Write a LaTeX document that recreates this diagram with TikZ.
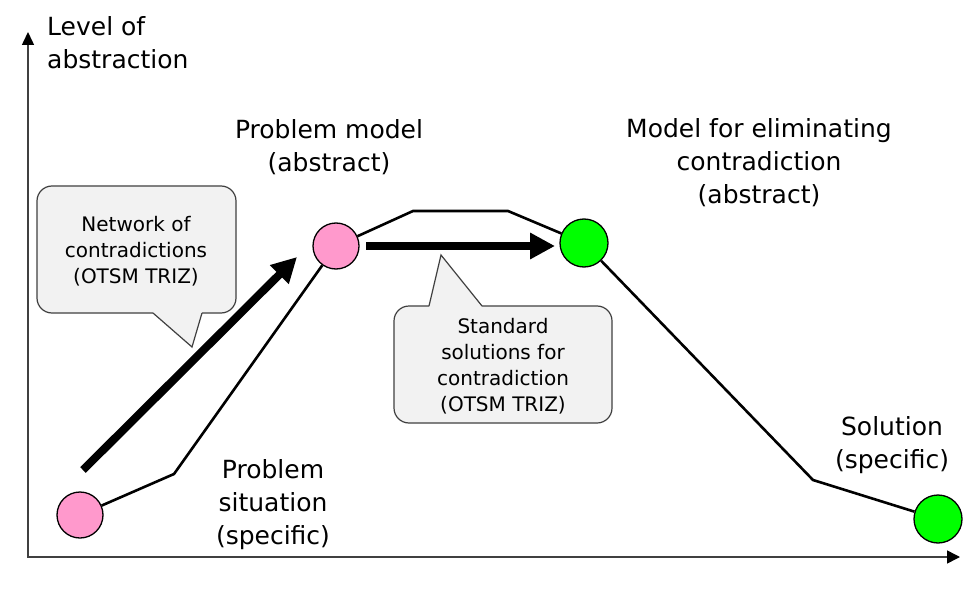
\documentclass[tikz,border=0pt]{standalone}
\usepackage{fontspec}
\setmainfont{DejaVu Sans}
\usetikzlibrary{arrows.meta}
\definecolor{pinkc}{HTML}{FF99CC}
\definecolor{greenc}{HTML}{00FF00}
\definecolor{callfill}{HTML}{F2F2F2}
\definecolor{axisgray}{HTML}{404040}
\begin{document}
\begin{tikzpicture}[x=1pt,y=-1pt,
  stage/.style={circle, draw=black, line width=1.3pt, minimum size=46pt, inner sep=0pt},
  path line/.style={line width=2.6pt, line join=miter},
  big arrow/.style={line width=8pt, -{Triangle[length=25pt,width=25pt]}},
  label text/.style={font=\fontsize{25}{33}\selectfont, align=center, inner sep=0pt, anchor=north},
  callout text/.style={font=\fontsize{20}{26}\selectfont, align=center, inner sep=0pt, anchor=north},
  callout/.style={fill=callfill, draw=axisgray, line width=1.2pt},
]
\useasboundingbox (0,0) rectangle (979,596);
\fill[white] (0,0) rectangle (979,596);

% axes
\draw[axisgray, line width=1.5pt,
  {Triangle[length=13pt,width=12pt,color=black]}-{Triangle[length=13pt,width=13pt,color=black]}]
  (28,32) -- (28,557) -- (960,557);

% stages
\node[stage, fill=pinkc] (ps) at (80,515) {};
\node[stage, fill=pinkc] (pm) at (336,246) {};
\node[stage, fill=greenc, minimum size=48pt] (me) at (584,243) {};
\node[stage, fill=greenc, minimum size=48pt] (sol) at (938,519) {};

\coordinate (k1) at (174,474);
\coordinate (k2) at (413,211);
\coordinate (k3) at (508,211);
\coordinate (k4) at (813,480);

\draw[path line] (ps) -- (k1) -- (pm);
\draw[path line] (pm) -- (k2) -- (k3) -- (me);
\draw[path line] (me) -- (k4) -- (sol);

% thick arrows
\coordinate (a1s) at (83,470);
\coordinate (a1e) at (297,257);
\coordinate (a2s) at (366,246);
\coordinate (a2e) at (555,246);
\draw[big arrow] (a1s) -- (a1e);
\draw[big arrow] (a2s) -- (a2e);

% callout 1
\draw[callout, rounded corners=15pt] (37,186) rectangle (236,313);
\fill[callfill] (153.8,311) -- (201.4,311) -- (202,313) -- (192,347) -- (153,313) -- cycle;
\draw[axisgray, line width=1.2pt] (153,313) -- (192,347) -- (202,313);
\node[callout text] (c1t) at (136,216) {Network of\\contradictions\\(OTSM TRIZ)};

% callout 2
\draw[callout, rounded corners=15pt] (394,306) rectangle (612,423);
\fill[callfill] (429,306) -- (441,255) -- (482,306) -- (481,308) -- (430,308) -- cycle;
\draw[axisgray, line width=1.2pt] (429,306) -- (441,255) -- (482,306);
\node[callout text] (c2t) at (503,318) {Standard\\solutions for\\contradiction\\(OTSM TRIZ)};

% labels
\node[label text, anchor=north west, align=left] (lvl) at (47,16) {Level of\\abstraction};
\node[label text] (pmt) at (329,119) {Problem model\\(abstract)};
\node[label text] (met) at (759,118) {Model for eliminating\\contradiction\\(abstract)};
\node[label text] (pst) at (273,459) {Problem\\situation\\(specific)};
\node[label text] (solt) at (892,416) {Solution\\(specific)};
\end{tikzpicture}
\end{document}
